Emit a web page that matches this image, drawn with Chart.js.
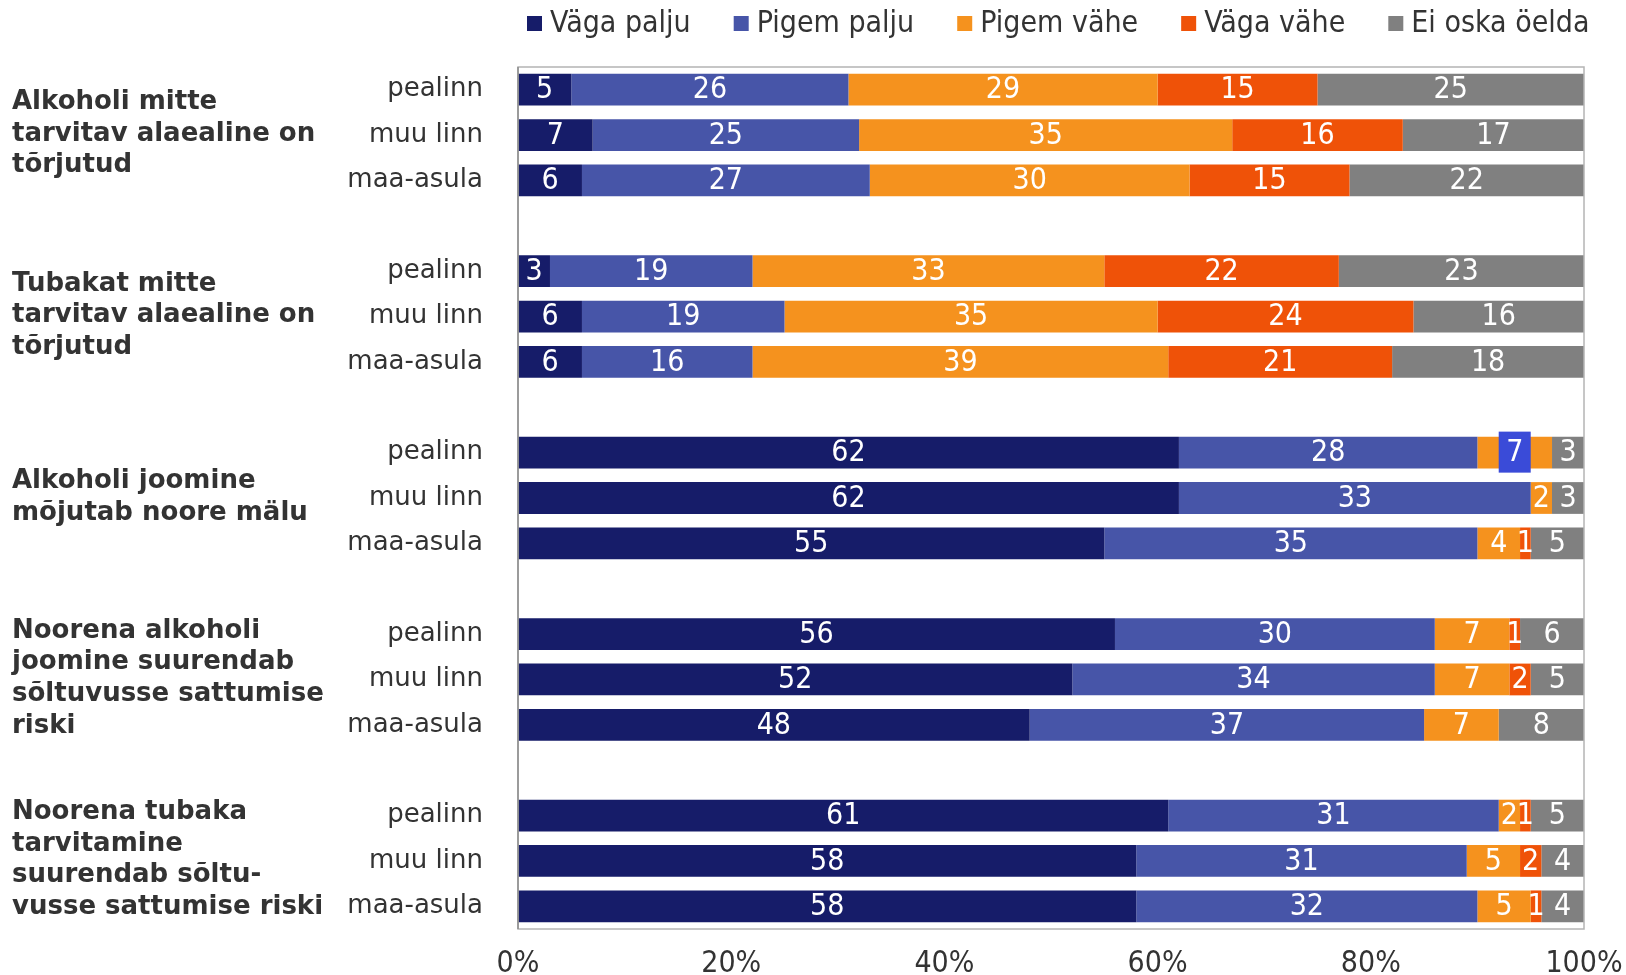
<!DOCTYPE html>
<html>
<head>
<meta charset="utf-8">
<script src="https://cdn.jsdelivr.net/npm/chart.js@4"></script>
<style>
  html, body { margin: 0; padding: 0; background: #fff; }
</style>
</head>
<body>
<canvas id="myChart" width="1626" height="975"></canvas>
<script>
const groups = [
    ["Alkoholi mitte", "tarvitav alaealine on", "tõrjutud"],
    ["Tubakat mitte", "tarvitav alaealine on", "tõrjutud"],
    ["Alkoholi joomine", "mõjutab noore mälu"],
    ["Noorena alkoholi", "joomine suurendab", "sõltuvusse sattumise", "riski"],
    ["Noorena tubaka", "tarvitamine", "suurendab sõltu-", "vusse sattumise riski"],
];
const places = ["pealinn", "muu linn", "maa-asula"];
const seriesNames = ["Väga palju", "Pigem palju", "Pigem vähe", "Väga vähe", "Ei oska öelda"];
const colors = ["#161c69", "#4755a8", "#f5921e", "#ef5208", "#808080"];
const tickValues = [0, 20, 40, 60, 80, 100];

// three rows per statement: pealinn, muu linn, maa-asula
const vagaPalju  = [5, 7, 6,    3, 6, 6,     62, 62, 55,  56, 52, 48,  61, 58, 58];
const pigemPalju = [26, 25, 27, 19, 19, 16,  28, 33, 35,  30, 34, 37,  31, 31, 32];
const pigemVahe  = [29, 35, 30, 33, 35, 39,  7, 2, 4,     7, 7, 7,     2, 5, 5];
const vagaVahe   = [15, 16, 15, 22, 24, 21,  0, 0, 1,     1, 2, 0,     1, 2, 1];
const eiOska     = [25, 17, 22, 23, 16, 18,  3, 3, 5,     6, 5, 8,     5, 4, 4];

const narrowFont = "'DejaVu Sans Condensed', 'Liberation Sans Narrow', sans-serif";
const wideFont = "'DejaVu Sans', Verdana, sans-serif";

// empty row between statements
function spread(values) {
    let out = [];
    values.forEach((v, i) => {
        out.push(v);
        if (i % 3 === 2 && i < values.length - 1) out.push(null);
    });
    return out;
}

let labels = [];
groups.forEach((g, gi) => {
    places.forEach(p => labels.push(p));
    if (gi < groups.length - 1) labels.push("");
});

const valueLabels = {
    id: "valueLabels",
    afterDatasetsDraw(chart) {
        const ctx = chart.ctx;
        ctx.save();
        ctx.font = "30px " + narrowFont;
        ctx.textAlign = "center";
        ctx.textBaseline = "middle";
        chart.data.datasets.forEach((ds, di) => {
            chart.getDatasetMeta(di).data.forEach((bar, i) => {
                const v = ds.data[i];
                if (!v) return;
                const x = (bar.x + bar.base) / 2;
                // selected label box
                if (di === 2 && i === 8) {
                    ctx.fillStyle = "#3a4bd8";
                    ctx.fillRect(x - 16, bar.y - 21, 32, 41);
                }
                ctx.fillStyle = "#fff";
                ctx.fillText(v, x, bar.y + 1);
            });
        });
        ctx.restore();
    }
};

const frame = {
    id: "frame",
    afterDatasetsDraw(chart) {
        const a = chart.chartArea, ctx = chart.ctx;
        ctx.save();
        ctx.strokeStyle = "#b4b4b4";
        ctx.lineWidth = 1.5;
        ctx.strokeRect(a.left, a.top, a.right - a.left, a.bottom - a.top);
        ctx.strokeStyle = "#8c8c8c";
        ctx.beginPath();
        ctx.moveTo(a.left, a.top);
        ctx.lineTo(a.left, a.bottom);
        ctx.stroke();
        ctx.restore();
    }
};

const groupTitles = {
    id: "groupTitles",
    afterDraw(chart) {
        const ctx = chart.ctx, y = chart.scales.y;
        ctx.save();
        ctx.font = "bold 26px " + wideFont;
        ctx.fillStyle = "#333";
        ctx.textBaseline = "middle";
        groups.forEach((lines, gi) => {
            const mid = y.getPixelForValue(gi * 4 + 1) - 1;
            lines.forEach((t, li) => {
                ctx.fillText(t, 12, mid + (li - (lines.length - 1) / 2) * 31.6);
            });
        });
        ctx.restore();
    }
};

const topLegend = {
    id: "topLegend",
    afterDraw(chart) {
        const ctx = chart.ctx;
        ctx.save();
        ctx.font = "30px " + narrowFont;
        ctx.textBaseline = "middle";
        let x = 527;
        const y = 23;
        seriesNames.forEach((name, i) => {
            ctx.fillStyle = colors[i];
            ctx.fillRect(x, y - 7, 15, 15);
            ctx.fillStyle = "#333";
            ctx.fillText(name, x + 23, y + 1);
            x += 23 + ctx.measureText(name).width + 43;
        });
        ctx.restore();
    }
};

const series = [vagaPalju, pigemPalju, pigemVahe, vagaVahe, eiOska];

let ctx = document.getElementById("myChart").getContext("2d");
let myChart = new Chart(ctx, {
    type: "bar",
    data: {
        labels: labels,
        datasets: series.map((s, i) => ({
            label: seriesNames[i],
            data: spread(s),
            backgroundColor: colors[i],
            borderWidth: 0,
            barPercentage: 0.7,
            categoryPercentage: 1,
        })),
    },
    options: {
        indexAxis: "y",
        responsive: false,
        animation: false,
        devicePixelRatio: 1,
        layout: { padding: { top: 67, right: 42, left: 0, bottom: 0 } },
        plugins: {
            legend: { display: false },
            tooltip: { enabled: false },
        },
        scales: {
            x: {
                stacked: true,
                min: 0,
                max: 100,
                grid: { display: false, drawTicks: false },
                border: { display: false },
                afterBuildTicks(scale) {
                    scale.ticks = tickValues.map(v => ({ value: v }));
                },
                ticks: {
                    color: "#333",
                    padding: 20,
                    maxRotation: 0,
                    font: { family: narrowFont, size: 30, lineHeight: 1 },
                    callback: v => v + "%",
                },
                afterFit(scale) {
                    scale.height = 46;
                    scale.paddingLeft = 0;
                    scale.paddingRight = 0;
                },
            },
            y: {
                stacked: true,
                grid: { display: false, drawTicks: false },
                border: { display: false },
                ticks: {
                    color: "#333",
                    padding: 35,
                    autoSkip: false,
                    font: { family: wideFont, size: 26 },
                },
                afterFit(scale) {
                    scale.width = 518;
                    scale.paddingTop = 0;
                    scale.paddingBottom = 0;
                },
            },
        },
    },
    plugins: [valueLabels, frame, groupTitles, topLegend],
});
</script>
</body>
</html>
